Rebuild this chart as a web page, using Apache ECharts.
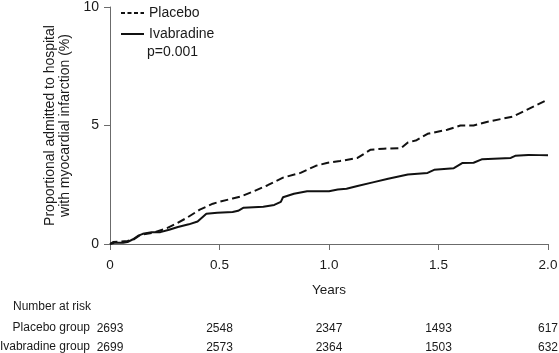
<!DOCTYPE html>
<html>
<head>
<meta charset="utf-8">
<script src="https://cdn.jsdelivr.net/npm/echarts@6/dist/echarts.min.js"></script>
<style>
html,body{margin:0;padding:0;background:#fff;}
#c{width:559px;height:353px;}
</style>
</head>
<body>
<div id="c"></div>
<script>
// Data
var placeboYears = [0.0,0.014,0.08,0.11,0.137,0.2,0.26,0.30,0.35,0.41,0.47,0.50,0.56,0.595,0.65,0.72,0.79,0.87,0.94,0.99,1.05,1.13,1.19,1.25,1.33,1.36,1.40,1.45,1.54,1.60,1.66,1.72,1.80,1.84,1.90,2.0];
var placeboPct   = [0.0,0.08,0.13,0.2,0.38,0.48,0.67,0.85,1.1,1.45,1.7,1.78,1.92,2.0,2.2,2.48,2.8,3.0,3.3,3.42,3.5,3.63,3.98,4.02,4.05,4.28,4.38,4.65,4.82,5.0,5.0,5.15,5.3,5.38,5.65,6.1];
var ivaYears = [0.0,0.02,0.06,0.08,0.105,0.13,0.15,0.19,0.23,0.27,0.31,0.36,0.40,0.44,0.49,0.56,0.585,0.61,0.70,0.75,0.78,0.79,0.84,0.90,1.0,1.04,1.08,1.13,1.20,1.27,1.36,1.45,1.48,1.57,1.61,1.66,1.70,1.83,1.85,1.91,1.96,2.0];
var ivaPct   = [0.0,0.05,0.05,0.08,0.2,0.35,0.43,0.5,0.5,0.6,0.72,0.83,0.95,1.28,1.32,1.35,1.4,1.53,1.57,1.65,1.78,1.97,2.12,2.23,2.23,2.3,2.33,2.45,2.6,2.75,2.93,3.0,3.13,3.2,3.42,3.43,3.58,3.63,3.72,3.76,3.75,3.74];
var riskTimes = [0, 0.5, 1.0, 1.5, 2.0];
var riskPlacebo = [2693, 2548, 2347, 1493, 617];
var riskIva = [2699, 2573, 2364, 1503, 632];
var xTickLabels = ['0', '0.5', '1.0', '1.5', '2.0'];
var yTicks = [0, 5, 10];

function pairs(xs, ys){ return xs.map(function(x,i){ return [x, ys[i]]; }); }
function idxOf(v){ for (var i=0;i<riskTimes.length;i++){ if (Math.abs(riskTimes[i]-v)<1e-6) return i; } return -1; }

var txt = '#1a1a1a';
var axisCol = '#6b6b6b';
var font = 'Liberation Sans, Arial, Helvetica, sans-serif';

var chart = echarts.init(document.getElementById('c'), null, {renderer:'canvas'});
var option = {
  animation: false,
  backgroundColor: '#fff',
  textStyle: { fontFamily: font, color: txt },
  grid: { left: 110, right: 11, top: 7, bottom: 109, containLabel: false, outerBoundsMode: 'none' },
  legend: {
    orient: 'vertical', left: 120, top: 6, padding: 0,
    itemWidth: 23, itemHeight: 14, itemGap: 7,
    itemStyle: { opacity: 0 },
    textStyle: { fontSize: 14, color: txt, fontFamily: font },
    data: [
      { name: 'Placebo', lineStyle: { type: [4, 2.5], width: 2 } },
      { name: 'Ivabradine' }
    ]
  },
  graphic: [
    { type: 'text', left: 147, top: 45, style: { text: 'p=0.001', fontSize: 14, fill: txt, fontFamily: font } },
    { type: 'text', left: 13, top: 301, style: { text: 'Number at risk', fontSize: 12, fill: txt, fontFamily: font } },
    { type: 'text', right: 469, top: 322, style: { text: 'Placebo group', fontSize: 12, fill: txt, fontFamily: font, align: 'right' } },
    { type: 'text', right: 469, top: 341, style: { text: 'Ivabradine group', fontSize: 12, fill: txt, fontFamily: font, align: 'right' } }
  ],
  xAxis: [
    {
      type: 'value', min: 0, max: 2, interval: 0.5,
      name: 'Years', nameLocation: 'middle', nameGap: 39,
      nameTextStyle: { fontSize: 13.5, color: txt, fontFamily: font },
      axisLine: { show: true, lineStyle: { color: axisCol, width: 1 } },
      axisTick: { show: true, length: 6, lineStyle: { color: axisCol } },
      axisLabel: { fontSize: 13.5, color: txt, margin: 14, fontFamily: font,
        formatter: function(v){ var i = idxOf(v); return i >= 0 ? xTickLabels[i] : ''; } },
      splitLine: { show: false }
    },
    {
      type: 'value', min: 0, max: 2, interval: 0.5, position: 'bottom', offset: 65,
      axisLine: { show: false }, axisTick: { show: false }, splitLine: { show: false },
      axisLabel: { fontSize: 12, color: txt, margin: 14, fontFamily: font,
        formatter: function(v){ var i = idxOf(v); return i >= 0 ? String(riskPlacebo[i]) : ''; } }
    },
    {
      type: 'value', min: 0, max: 2, interval: 0.5, position: 'bottom', offset: 84,
      axisLine: { show: false }, axisTick: { show: false }, splitLine: { show: false },
      axisLabel: { fontSize: 12, color: txt, margin: 14, fontFamily: font,
        formatter: function(v){ var i = idxOf(v); return i >= 0 ? String(riskIva[i]) : ''; } }
    }
  ],
  yAxis: {
    type: 'value', min: 0, max: 10, interval: 5,
    name: 'Proportional admitted to hospital\nwith myocardial infarction (%)',
    nameLocation: 'middle', nameGap: 36, nameRotate: 90,
    nameTextStyle: { fontSize: 14, color: txt, fontFamily: font, lineHeight: 15 },
    axisLine: { show: true, lineStyle: { color: axisCol, width: 1 } },
    axisTick: { show: true, length: 6, lineStyle: { color: axisCol } },
    axisLabel: { fontSize: 14, color: txt, margin: 11, fontFamily: font,
      formatter: function(v){ return yTicks.indexOf(v) >= 0 ? String(v) : ''; } },
    splitLine: { show: false }
  },
  series: [
    {
      name: 'Placebo', type: 'line', xAxisIndex: 0, symbol: 'none',
      lineStyle: { color: '#111', width: 2, type: [8, 4] },
      itemStyle: { color: '#111', opacity: 0 },
      data: pairs(placeboYears, placeboPct)
    },
    {
      name: 'Ivabradine', type: 'line', xAxisIndex: 0, symbol: 'none',
      lineStyle: { color: '#111', width: 2, type: 'solid' },
      itemStyle: { color: '#111', opacity: 0 },
      data: pairs(ivaYears, ivaPct)
    }
  ]
};
chart.setOption(option);
</script>
</body>
</html>
